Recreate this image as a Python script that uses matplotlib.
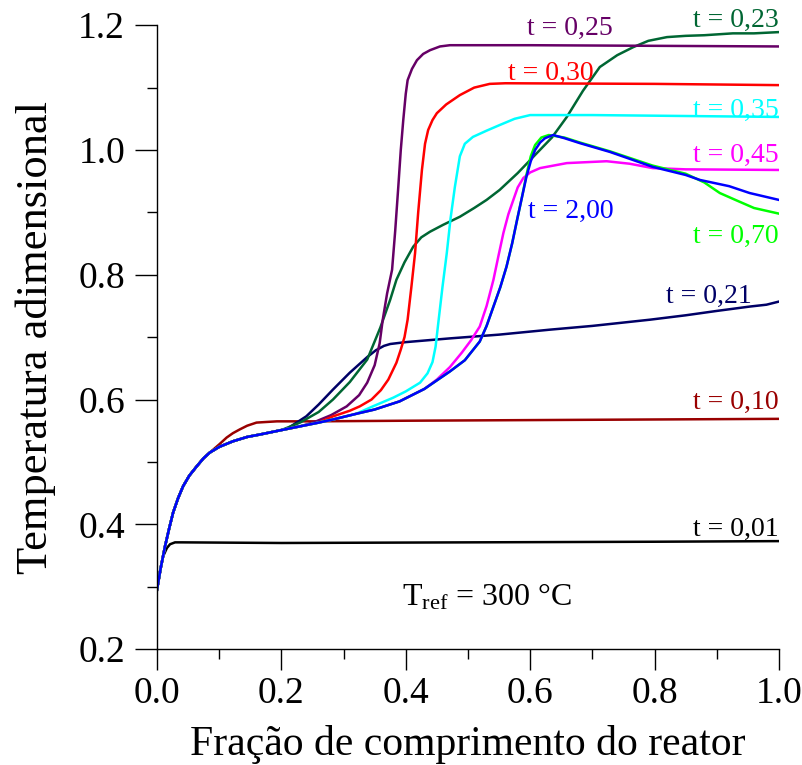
import matplotlib
matplotlib.use("Agg")
import matplotlib.pyplot as plt
from matplotlib.ticker import MultipleLocator

plt.rcParams['font.family'] = ['Liberation Serif', 'DejaVu Serif']
plt.rcParams['mathtext.fontset'] = 'custom'
plt.rcParams['mathtext.rm'] = 'Liberation Serif'

# trecho inicial comum a quase todas as curvas
base_x = [0.0, 0.006, 0.013, 0.02, 0.026, 0.034, 0.042, 0.052, 0.064, 0.075, 0.085, 0.1, 0.122,
          0.145, 0.166, 0.2, 0.23, 0.26, 0.283, 0.32, 0.35, 0.39, 0.43, 0.471]
base_y = [0.295, 0.33, 0.365, 0.395, 0.419, 0.442, 0.461, 0.478, 0.493, 0.506, 0.515, 0.524, 0.533,
          0.540, 0.544, 0.551, 0.557, 0.563, 0.568, 0.577, 0.584, 0.597, 0.617, 0.645]

# t = 0,01 (curva propria)
x_001 = [0.0, 0.005, 0.01, 0.016, 0.021, 0.029, 0.04, 0.2, 0.5, 0.8, 1.0]
y_001 = [0.295, 0.325, 0.349, 0.362, 0.368, 0.371, 0.371, 0.370, 0.371, 0.372, 0.373]

# caudas de cada curva (a partir do ponto onde se separa da base)
x_010 = [0.1, 0.112, 0.122, 0.133, 0.145, 0.16, 0.176, 0.193, 0.25, 0.4, 0.6, 0.8, 1.0]
y_010 = [0.528, 0.539, 0.546, 0.552, 0.558, 0.563, 0.564, 0.565, 0.565, 0.566, 0.567, 0.568, 0.569]

x_021 = [0.209, 0.24, 0.26, 0.283, 0.31, 0.338, 0.352, 0.365, 0.375, 0.4, 0.471, 0.55, 0.632,
         0.7, 0.793, 0.85, 0.9, 0.953, 0.98, 1.0]
y_021 = [0.553, 0.573, 0.592, 0.616, 0.643, 0.668, 0.679, 0.686, 0.689, 0.692, 0.698, 0.704, 0.712,
         0.718, 0.728, 0.735, 0.742, 0.749, 0.752, 0.757]

x_023 = [0.23, 0.26, 0.283, 0.31, 0.338, 0.359, 0.375, 0.385, 0.398, 0.412, 0.425, 0.439, 0.46,
         0.487, 0.51, 0.53, 0.551, 0.58, 0.605, 0.635, 0.659, 0.685, 0.712, 0.74, 0.766, 0.79,
         0.82, 0.85, 0.88, 0.926, 0.96, 1.0]
y_023 = [0.563, 0.58, 0.6, 0.628, 0.664, 0.715, 0.76, 0.792, 0.82, 0.845, 0.86, 0.869, 0.88,
         0.893, 0.907, 0.92, 0.936, 0.963, 0.989, 1.02, 1.053, 1.095, 1.133, 1.152, 1.165, 1.175,
         1.181, 1.183, 1.184, 1.187, 1.187, 1.189]

x_025 = [0.251, 0.28, 0.305, 0.325, 0.338, 0.35, 0.358, 0.363, 0.37, 0.378, 0.383, 0.388, 0.392,
         0.396, 0.4, 0.403, 0.41, 0.418, 0.428, 0.439, 0.455, 0.471, 0.6, 0.8, 1.0]
y_025 = [0.563, 0.575, 0.589, 0.607, 0.627, 0.655, 0.69, 0.728, 0.77, 0.808, 0.87, 0.941, 1.0,
         1.048, 1.09, 1.112, 1.13, 1.144, 1.154, 1.16, 1.166, 1.168, 1.168, 1.167, 1.166]

x_030 = [0.283, 0.31, 0.326, 0.345, 0.36, 0.372, 0.385, 0.392, 0.398, 0.403, 0.409, 0.415, 0.42,
         0.426, 0.431, 0.436, 0.443, 0.45, 0.465, 0.487, 0.51, 0.535, 0.56, 0.8, 1.0]
y_030 = [0.573, 0.582, 0.589, 0.60, 0.615, 0.632, 0.659, 0.68, 0.70, 0.728, 0.78, 0.835, 0.90,
         0.968, 1.01, 1.032, 1.048, 1.059, 1.073, 1.088, 1.10, 1.106, 1.107, 1.106, 1.104]

x_035 = [0.32, 0.347, 0.38, 0.4, 0.423, 0.435, 0.443, 0.448, 0.452, 0.459, 0.466, 0.472, 0.479,
         0.487, 0.495, 0.508, 0.53, 0.551, 0.575, 0.6, 0.7, 0.8, 1.0]
y_035 = [0.577, 0.589, 0.603, 0.613, 0.627, 0.642, 0.66, 0.685, 0.72, 0.78, 0.835, 0.89, 0.941,
         0.99, 1.01, 1.021, 1.031, 1.04, 1.05, 1.056, 1.056, 1.055, 1.053]

x_045 = [0.45, 0.471, 0.49, 0.505, 0.519, 0.53, 0.541, 0.549, 0.557, 0.565, 0.573, 0.58, 0.589,
         0.6, 0.616, 0.659, 0.723, 0.76, 0.797, 0.85, 1.0]
y_045 = [0.632, 0.652, 0.675, 0.695, 0.717, 0.75, 0.792, 0.83, 0.867, 0.897, 0.92, 0.94, 0.955,
         0.964, 0.971, 0.979, 0.982, 0.978, 0.971, 0.969, 0.968]

x_070 = [0.495, 0.519, 0.53, 0.541, 0.552, 0.562, 0.571, 0.579, 0.587, 0.594, 0.601, 0.608,
         0.618, 0.63, 0.655, 0.68, 0.728, 0.797, 0.85, 0.88, 0.905, 0.93, 0.96, 1.0]
y_070 = [0.663, 0.693, 0.718, 0.749, 0.78, 0.813, 0.85, 0.888, 0.925, 0.96, 0.99, 1.008,
         1.02, 1.024, 1.02, 1.012, 0.998, 0.975, 0.962, 0.948, 0.931, 0.92, 0.907, 0.898]

x_200 = [0.495, 0.519, 0.53, 0.541, 0.552, 0.562, 0.571, 0.579, 0.587, 0.594, 0.601, 0.608,
         0.616, 0.624, 0.637, 0.655, 0.68, 0.728, 0.797, 0.85, 0.873, 0.92, 0.953, 1.0]
y_200 = [0.663, 0.693, 0.718, 0.749, 0.78, 0.813, 0.85, 0.888, 0.925, 0.957, 0.982, 1.0,
         1.012, 1.019, 1.024, 1.019, 1.011, 0.997, 0.973, 0.96, 0.952, 0.942, 0.931, 0.92]

labels = ['t = 0,10', 't = 0,21', 't = 0,23', 't = 0,25', 't = 0,30', 't = 0,35',
          't = 0,45', 't = 0,70', 't = 2,00']
tails = [(x_010, y_010), (x_021, y_021), (x_023, y_023), (x_025, y_025), (x_030, y_030),
         (x_035, y_035), (x_045, y_045), (x_070, y_070), (x_200, y_200)]
colors = ['#990000', '#000066', '#006633', '#660066', '#ff0000', '#00ffff',
          '#ff00ff', '#00ff00', '#0000ff']
# posicao dos rotulos: (x, y, alinhamento)
label_pos = [(1.0, 0.595, 'right'), (0.957, 0.765, 'right'), (1.0, 1.208, 'right'),
             (0.664, 1.195, 'center'), (0.634, 1.123, 'center'), (1.0, 1.064, 'right'),
             (1.0, 0.992, 'right'), (1.0, 0.861, 'right'), (0.596, 0.901, 'left')]

fig = plt.figure(figsize=(8.03, 7.65), dpi=100)
ax = fig.add_axes([0.1955, 0.1516, 0.7745, 0.8154])

ax.plot(x_001, y_001, color='black', lw=1.8)
ax.text(1.0, 0.392, 't = 0,01', ha='right', va='center', fontsize=20, color='black')

for lab, (tx, ty), c, (lx, ly, al) in zip(labels, tails, colors, label_pos):
    xs = [v for v in base_x if v < tx[0]] + tx
    ys = [base_y[i] for i, v in enumerate(base_x) if v < tx[0]] + ty
    ax.plot(xs, ys, color=c, lw=1.8)
    ax.text(lx, ly, lab, ha=al, va='center', fontsize=20, color=c)

ax.text(0.53, 0.283, r'$\mathrm{T_{ref}}$ = 300 °C', ha='center', va='center', fontsize=23)

ax.set_xlim(0, 1.0)
ax.set_ylim(0.2, 1.2)
ax.spines['top'].set_visible(False)
ax.spines['right'].set_visible(False)
for s in ['left', 'bottom']:
    ax.spines[s].set_linewidth(1.0)
ax.xaxis.set_major_locator(MultipleLocator(0.2))
ax.xaxis.set_minor_locator(MultipleLocator(0.1))
ax.yaxis.set_major_locator(MultipleLocator(0.2))
ax.yaxis.set_minor_locator(MultipleLocator(0.1))
ax.xaxis.set_major_formatter(lambda v, p: f"{v:.1f}")
ax.yaxis.set_major_formatter(lambda v, p: f"{v:.1f}")
ax.tick_params(which='major', direction='out', length=16, width=1.0, labelsize=27)
ax.tick_params(axis='x', which='major', length=15, pad=5)
ax.tick_params(axis='y', which='major', pad=7)
ax.tick_params(which='minor', direction='out', length=7, width=1.0)
ax.set_xlabel('Fração de comprimento do reator', fontsize=30, labelpad=10)
ax.set_ylabel('Temperatura adimensional', fontsize=32, labelpad=16)

fig.savefig('out.png', dpi=100)
